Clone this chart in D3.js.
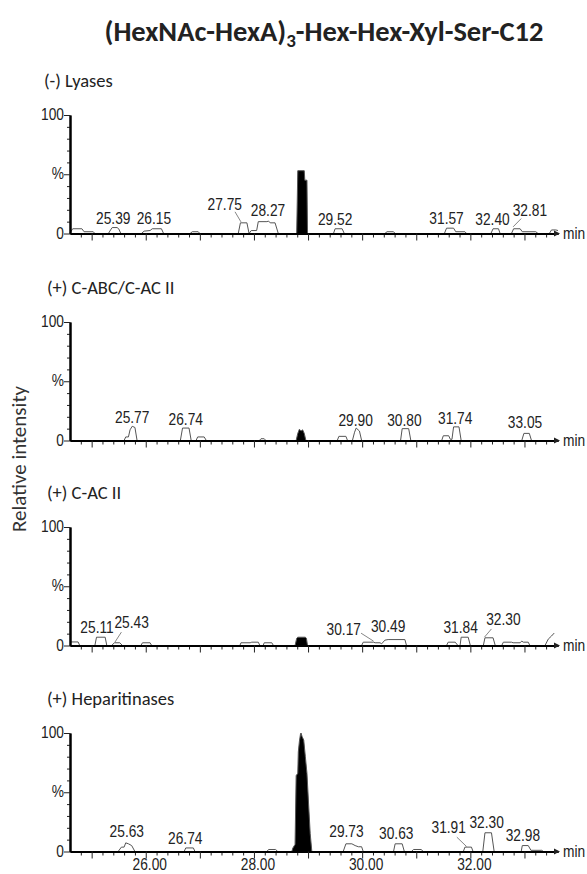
<!DOCTYPE html>
<html>
<head>
<meta charset="utf-8">
<script src="https://cdn.jsdelivr.net/npm/d3@7"></script>
<style>
body { margin: 0; background: #fff; }
svg { display: block; }
.lbl { font-family: Carlito, "Open Sans", sans-serif; fill: #222; }
.num { font-family: "Liberation Sans", Arial, sans-serif; font-size: 16px; fill: #222; }
</style>
</head>
<body>
<svg id="chart" width="587" height="874"></svg>
<script>
// chromatogram data: [time (min), relative intensity (%)]
var panelNames = ["(-) Lyases", "(+) C-ABC/C-AC II", "(+) C-AC II", "(+) Heparitinases"];

var traceLyases = [[24.60,0.5],[24.65,4],[24.82,4],[24.86,1.5],[25.03,1.5],[25.06,0],[25.31,0],[25.35,3],[25.38,5],[25.47,5],[25.50,4],[25.54,0],
  [25.92,0],[25.97,2],[26.08,2.5],[26.12,4],[26.29,4],[26.33,0],[26.82,0],[26.86,1.5],[26.97,1.5],[27.00,0],[27.71,0],[27.75,9],[27.87,9],[27.91,0],
  [27.95,2.5],[28.05,2.5],[28.08,10],[28.24,10],[28.27,10.5],[28.30,9],[28.39,9],[28.45,0],
  [29.47,0],[29.50,4],[29.63,4],[29.67,0],[30.42,0],[30.46,1.5],[30.58,1.5],[30.61,0],[31.52,0],[31.56,4.5],[31.69,4.5],[31.73,1.5],[31.90,1.5],[31.93,0],
  [32.38,0],[32.42,4],[32.52,4],[32.55,0],[32.76,0],[32.80,4],[32.92,4],[32.96,1.5],[33.21,1.5],[33.25,0],[33.46,0],[33.50,3],[33.58,3],[33.62,2.5]];
var peakLyases = [[28.79,0],[28.80,26],[28.81,53],[28.93,53],[28.94,45],[28.98,45],[28.99,0]];

var traceCabc = [[24.60,0],[25.60,0],[25.63,3],[25.68,3],[25.71,9],[25.75,12],[25.80,11],[25.84,0],
  [26.64,0],[26.68,10.5],[26.80,10.5],[26.84,0],[26.93,0],[26.96,3],[27.08,3],[27.12,0],[28.10,0],[28.13,1.5],[28.19,1.5],[28.22,0],
  [29.54,0],[29.57,3.5],[29.70,3.5],[29.73,0],[29.82,0],[29.86,7],[29.89,10.5],[29.95,8],[29.99,0],[30.71,0],[30.74,10],[30.86,10],[30.90,0],
  [31.47,0],[31.50,4],[31.60,4],[31.63,1],[31.66,1],[31.69,11.5],[31.79,11.5],[31.83,0],[32.95,0],[32.99,6],[33.09,6],[33.13,0],[33.62,0]];
var peakCabc = [[28.78,0],[28.81,6],[28.84,9.5],[28.87,8],[28.90,9],[28.93,6],[28.96,0]];

var traceCac = [[24.60,3],[24.75,3],[24.78,0],[25.06,0],[25.09,7],[25.25,7],[25.28,0],[25.37,0],[25.42,2.3],[25.52,2.3],[25.57,0],
  [25.91,0],[25.94,2.3],[26.08,2.3],[26.11,0],[27.74,0],[27.76,2.3],[27.93,2.3],[27.96,2.8],[28.08,2.8],[28.11,0],[28.17,0],[28.19,2.3],[28.33,2.3],[28.36,0],
  [29.99,0],[30.02,2.8],[30.21,2.8],[30.24,2.3],[30.33,2.3],[30.36,1.4],[30.42,4.5],[30.48,5],[30.79,5],[30.82,0],
  [31.56,0],[31.59,2.8],[31.72,2.8],[31.77,0],[31.81,0],[31.83,7],[31.96,7],[32.00,0],[32.24,0],[32.27,6.5],[32.42,6.5],[32.46,0],
  [32.58,0],[32.61,2.8],[32.76,2.8],[32.79,2.3],[32.92,2.3],[32.95,3.7],[32.98,2.8],[33.07,2.8],[33.10,0],[33.38,0],[33.44,5.4],[33.50,8],[33.55,10.5]];
var peakCac = [[28.76,0],[28.79,6],[28.81,7],[28.95,7],[28.97,6],[28.99,0]];

var traceHep = [[24.60,0],[25.49,0],[25.55,3.7],[25.60,3.7],[25.63,7.3],[25.68,6.5],[25.74,5],[25.80,0],[26.71,0],[26.74,3],[26.88,3],[26.91,0],
  [28.24,0],[28.27,1.7],[28.40,1.7],[28.44,0],
  [29.65,0],[29.70,6.5],[29.81,6.5],[29.87,5],[29.93,4],[29.99,4],[30.02,0],[30.58,0],[30.61,6.5],[30.74,6.5],[30.78,0],
  [30.91,0],[30.95,1.7],[31.09,1.7],[31.13,0],[31.87,0],[31.90,3.7],[32.02,3.7],[32.05,0],[32.23,0],[32.27,15.8],[32.39,15.8],[32.44,0],
  [32.94,0],[32.96,5],[33.07,5],[33.12,1],[33.32,1],[33.35,0],[33.62,0]];
var peakHep = [[28.70,0],[28.72,3],[28.76,6],[28.78,64],[28.81,66],[28.82,84],[28.84,93],[28.86,99],[28.87,100],[28.89,97],
  [28.92,94],[28.95,80],[28.98,66],[29.01,40],[29.04,15],[29.07,0]];

// peak labels: text, time, intensity of baseline, optional leader [t1,i1,t2,i2]
var labelsLyases = [["25.39",25.40,8.4],["26.15",26.15,7.9],["27.75",27.46,19.7,[27.65,18.3,27.76,9.8]],["28.27",28.26,14.6],
  ["29.52",29.50,7.2],["31.57",31.56,7.6],["32.40",32.41,6.8],["32.81",33.10,14.6,[32.79,5.6,32.94,12.6]]];
var labelsCabc = [["25.77",25.75,14.6],["26.74",26.74,13.2],["29.90",29.88,12.3],["30.80",30.78,12.3],["31.74",31.72,14],["33.05",33.01,10.4]];
var labelsCac = [["25.11",25.10,10.4],["25.43",25.74,15,[25.43,2.8,25.55,11.3]],["30.17",29.66,8.5,[29.98,10.4,30.21,3.7]],
  ["30.49",30.48,11.3],["31.84",31.82,10.4],["32.30",32.61,16.9,[32.26,7,32.39,14]]];
var labelsHep = [["25.63",25.65,12.1],["26.74",26.73,6.5],["29.73",29.71,12.1],["30.63",30.63,10.7],
  ["31.91",31.60,15.8,[31.75,12.1,31.93,4.2]],["32.30",32.30,20],["32.98",32.97,8.7]];

var traces = [traceLyases, traceCabc, traceCac, traceHep];
var peaks = [peakLyases, peakCabc, peakCac, peakHep];
var labels = [labelsLyases, labelsCabc, labelsCac, labelsHep];

var xDomain = [24.6, 33.62];
var xMinorTicks = [24.8,25.2,25.4,25.6,25.8,26.2,26.4,26.6,26.8,27.2,27.4,27.6,27.8,28.2,28.4,28.6,28.8,29.2,29.4,29.6,29.8,
  30.2,30.4,30.6,30.8,31.2,31.4,31.6,31.8,32.2,32.4,32.6,32.8,33.2,33.4];
var xMajorTicks = [25,26,27,28,29,30,31,32,33];
var xTickLabels = [26,28,30,32];
var yMinorTicks = [10,20,30,40,60,70,80,90];
var yMajorTicks = [0,50,100];
var yTickText = {0:"0", 50:"%", 100:"100"};

var svg = d3.select("#chart");
var panelTop = [115, 322, 527, 733], panelH = 118.5;
var x = d3.scaleLinear().domain(xDomain).range([70, 558]);

// narrow helvetica-like text as in the MassLynx export
function numText(g, str, px, py, anchor) {
    return g.append("text").attr("class", "num")
        .attr("text-anchor", anchor || "middle")
        .attr("transform", "translate(" + px + "," + py + ") scale(0.86,1)")
        .text(str);
}

// title
var title = svg.append("text").attr("class", "lbl")
    .attr("x", 324).attr("y", 41).attr("text-anchor", "middle")
    .style("font-size", "28.5px").style("font-weight", "bold");
title.append("tspan").text("(HexNAc-HexA)");
title.append("tspan").attr("dy", 6).style("font-size", "19px").text("3");
title.append("tspan").attr("dy", -6).text("-Hex-Hex-Xyl-Ser-C12");

svg.append("text").attr("class", "lbl")
    .attr("transform", "translate(26,459) rotate(-90)")
    .attr("text-anchor", "middle").style("font-size", "21px").style("fill", "#333")
    .text("Relative intensity");

panelNames.forEach(function(name, p) {
    var y = d3.scaleLinear().domain([0, 100]).range([panelTop[p] + panelH, panelTop[p]]);
    var g = svg.append("g");

    g.append("text").attr("class", "lbl")
        .attr("x", p === 0 ? 44 : 47).attr("y", panelTop[p] - 34)
        .attr("dy", "0.35em").style("font-size", "18.5px")
        .text(name);

    // trace with filled peak
    var pts = traces[p].concat(peaks[p]).sort(function(a, b) { return a[0] - b[0]; });
    var line = d3.line().x(function(d) { return x(d[0]); }).y(function(d) { return y(d[1]); });
    var area = d3.area().x(function(d) { return x(d[0]); }).y0(y(0)).y1(function(d) { return y(d[1]); });
    g.append("path").attr("d", area(peaks[p])).attr("fill", "#000");
    g.append("path").attr("d", line(pts)).attr("fill", "none")
        .attr("stroke", "#555").attr("stroke-width", 1);

    // y axis
    var ya = g.append("g").attr("transform", "translate(70,0)");
    ya.call(d3.axisLeft(y).tickValues(yMinorTicks).tickSize(3).tickSizeOuter(0).tickFormat(""));
    ya.append("g").call(d3.axisLeft(y).tickValues(yMajorTicks).tickSize(6).tickSizeOuter(0).tickFormat(""));
    ya.selectAll(".domain").attr("stroke-width", 2);
    ya.selectAll(".tick line").attr("stroke", "#222");
    yMajorTicks.forEach(function(v) {
        numText(g, yTickText[v], 64, y(v) + 5, "end");
    });

    // x axis
    var xa = g.append("g").attr("transform", "translate(0," + y(0) + ")");
    xa.call(d3.axisBottom(x).tickValues(xMinorTicks).tickSize(4).tickSizeOuter(0).tickFormat(""));
    xa.append("g").call(d3.axisBottom(x).tickValues(xMajorTicks).tickSize(7).tickSizeOuter(0).tickFormat(""));
    xa.selectAll(".domain").attr("stroke-width", 2);
    xa.selectAll(".tick line").attr("stroke", "#222");
    xa.append("path")
        .attr("d", "M" + (x(xDomain[1]) + 2) + ",0l-6,-3v6z").attr("fill", "#222");
    numText(g, "min", x(xDomain[1]) + 5, y(0) + 5, "start");
    if (p === panelNames.length - 1) {
        xTickLabels.forEach(function(v) {
            numText(g, d3.format(".2f")(v), x(v) + 4, y(0) + 18);
        });
    }

    // peak labels
    labels[p].forEach(function(l) {
        numText(g, l[0], x(l[1]), y(l[2]));
        if (l[3]) {
            g.append("line")
                .attr("x1", x(l[3][0])).attr("y1", y(l[3][1]))
                .attr("x2", x(l[3][2])).attr("y2", y(l[3][3]))
                .attr("stroke", "#666").attr("stroke-width", 0.8);
        }
    });
});
</script>
</body>
</html>
